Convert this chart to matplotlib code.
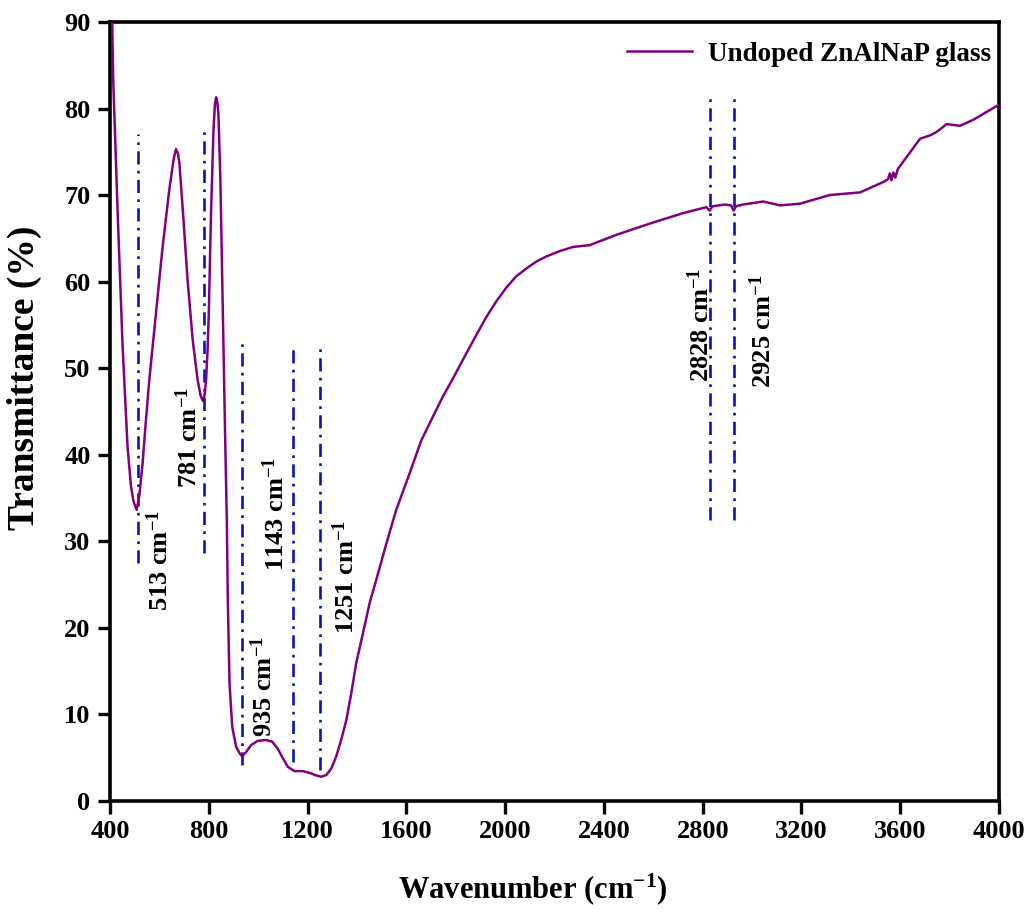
import matplotlib
matplotlib.use("Agg")
import matplotlib.pyplot as plt

# FTIR transmittance spectrum of the undoped glass
wavenumber = [403, 413, 431, 451, 471, 485, 495, 508, 519, 532, 545, 559, 586, 613,
              640, 658, 667, 675, 681, 694, 714, 735, 755, 767, 776, 783, 789, 795,
              800, 809, 819, 825, 830, 835, 839, 847, 857, 867, 873, 877, 884, 895,
              911, 924, 935, 951, 971, 998, 1032, 1057, 1079, 1100, 1120, 1147, 1180,
              1208, 1235, 1255, 1276, 1296, 1316, 1336, 1357, 1377, 1397, 1424, 1451,
              1478, 1519, 1559, 1613, 1660, 1708, 1748, 1789, 1843, 1883, 1924, 1964,
              2005, 2045, 2086, 2126, 2167, 2220, 2275, 2342, 2451, 2586, 2720, 2815,
              2828, 2840, 2890, 2915, 2925, 2935, 2964, 3045, 3113, 3194, 3315, 3437,
              3531, 3550, 3558, 3564, 3572, 3580, 3590, 3626, 3680, 3721, 3748, 3788,
              3842, 3896, 3997]
transmittance = [100.0, 83.3, 67.9, 52.5, 40.9, 36.3, 34.6, 33.6, 35.3, 39.0, 43.8,
                 48.6, 56.3, 64.0, 70.6, 74.2, 75.3, 74.8, 73.7, 68.6, 60.2, 53.2,
                 48.6, 46.8, 46.2, 46.9, 48.6, 52.0, 56.3, 67.9, 77.5, 80.6, 81.3,
                 80.6, 79.4, 71.7, 56.3, 40.9, 32.4, 23.2, 13.5, 8.5, 6.2, 5.5, 5.1,
                 5.6, 6.4, 6.9, 7.0, 6.8, 6.0, 4.9, 3.9, 3.4, 3.4, 3.2, 2.9, 2.75,
                 2.95, 3.7, 5.1, 7.0, 9.3, 12.4, 15.9, 19.3, 22.8, 25.5, 29.7, 33.6,
                 37.8, 41.6, 44.4, 46.7, 48.8, 51.7, 53.8, 55.9, 57.7, 59.3, 60.6,
                 61.5, 62.3, 62.9, 63.5, 64.0, 64.2, 65.4, 66.7, 67.9, 68.6, 68.2,
                 68.7, 68.9, 68.8, 68.2, 68.7, 68.9, 69.25, 68.8, 69.0, 70.0, 70.3,
                 71.5, 71.8, 72.5, 71.7, 72.6, 72.0, 73.0, 74.4, 76.5, 76.9, 77.3,
                 78.2, 78.0, 78.7, 80.4]

# assigned absorption bands (cm^-1)
peak_positions = [513, 781, 935, 1143, 1251, 2828, 2925]

# marker-line extents and label placement for each band
line_lo = [27.5, 28.6, 4.1, 4.5, 3.5, 32.4, 32.4]
line_hi = [77.0, 77.7, 53.2, 52.5, 52.5, 81.6, 81.8]
label_x = [600, 717, 1021, 1070, 1354, 2792, 3041]
label_y = [27.7, 42.0, 13.2, 33.1, 25.8, 55.0, 54.3]

x_ticks = [400, 800, 1200, 1600, 2000, 2400, 2800, 3200, 3600, 4000]
y_ticks = [0, 10, 20, 30, 40, 50, 60, 70, 80, 90]

plt.rcParams['font.family'] = ['Liberation Serif', 'DejaVu Serif']
plt.rcParams['font.weight'] = 'bold'
plt.rcParams['mathtext.fontset'] = 'custom'
plt.rcParams['mathtext.rm'] = 'Liberation Serif:bold'
plt.rcParams['mathtext.bf'] = 'Liberation Serif:bold'
plt.rcParams['mathtext.it'] = 'Liberation Serif:bold'

curve_color = '#800080'
band_color = '#0A14B4'

fig = plt.figure(figsize=(10.31, 9.17), dpi=100)
ax = fig.add_axes([0.1067, 0.127, 0.969 - 0.1067, 0.976 - 0.127])

ax.plot(wavenumber, transmittance, color=curve_color, lw=1.8,
        label='Undoped ZnAlNaP glass', zorder=3)

for pos, lo, hi, lx, ly in zip(peak_positions, line_lo, line_hi, label_x, label_y):
    ax.plot([pos, pos], [lo, hi], color=band_color, lw=1.9,
            linestyle=(0, (5, 2.4, 1, 2.4)), zorder=2)
    ax.text(lx, ly, f'{pos} cm$^{{-1}}$', rotation=90, ha='center', va='center',
            fontsize=19, fontweight='bold', color='black')

ax.set_xlim(400, 4000)
ax.set_ylim(0, 90)
ax.set_xticks(x_ticks)
ax.set_yticks(y_ticks)
ax.tick_params(direction='out', length=9, width=2.4, labelsize=19, pad=5,
               top=False, right=False)
for lab in ax.get_xticklabels() + ax.get_yticklabels():
    lab.set_fontweight('bold')
for sp in ax.spines.values():
    sp.set_linewidth(2.6)

ax.set_xlabel('Wavenumber (cm$^{-1}$)', fontsize=22, fontweight='bold', va='center')
ax.xaxis.set_label_coords(0.4754, -0.1137)
ax.set_ylabel('Transmittance (%)', fontsize=27, fontweight='bold', va='center')
ax.yaxis.set_label_coords(-0.0958, 0.543)

leg = ax.legend(loc='upper right', bbox_to_anchor=(1.0, 0.985), frameon=False,
                fontsize=19.5, handlelength=2.4, handletextpad=0.6,
                borderaxespad=0.0, borderpad=0.3)
for t in leg.get_texts():
    t.set_fontweight('bold')

fig.savefig('out.png', dpi=100)
